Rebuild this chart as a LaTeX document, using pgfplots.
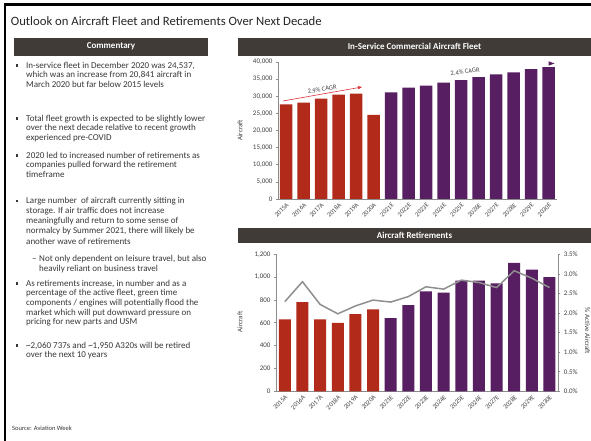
\documentclass[border=0pt]{standalone}
\usepackage{fontspec}
\setmainfont{Carlito}
\usepackage{pgfplots}
\pgfplotsset{compat=1.18}
\usetikzlibrary{arrows.meta}
\definecolor{barcol}{HTML}{403B37}
\definecolor{fleetred}{HTML}{B22B1A}
\definecolor{fleetpurple}{HTML}{581E62}
\definecolor{linegray}{HTML}{8F8F8F}
\definecolor{axisgray}{HTML}{8C8C8C}
\definecolor{ticktext}{HTML}{404040}
\definecolor{ctext}{HTML}{383838}
\definecolor{titletext}{HTML}{262626}
\definecolor{arrowred}{HTML}{E0323C}
\newcommand{\cfont}{\fontsize{9}{10}\selectfont}
\newcommand{\tfont}{\fontsize{7}{8}\selectfont}
\newcommand{\cln}[2]{\node[anchor=base west, inner sep=0, font=\cfont, text=ctext] at (26, 441-#1-2.2) {#2};}
\newcommand{\sln}[2]{\node[anchor=base west, inner sep=0, font=\cfont, text=ctext] at (39, 441-#1-2.2) {#2};}
\newcommand{\bul}[1]{\fill[ctext] (15.6, 441-#1-1.1) rectangle (17.8, 441-#1+1.1);}
\pgfplotsset{
  commonaxis/.style={
    scale only axis,
    axis line style={-, draw=axisgray, line width=0.8pt},
    tick align=outside, major tick length=2pt,
    xtick style={draw=none}, ytick style={draw=axisgray, line width=0.6pt},
    yticklabel style={font=\tfont, text=ticktext},
    xticklabel style={font=\fontsize{6.5}{7}\selectfont, text=ticktext, rotate=45, anchor=north east, inner sep=1pt},
    ylabel style={font=\tfont, text=ticktext},
    /pgf/number format/1000 sep={,},
    /pgf/number format/assume math mode=true,
  },
}
\begin{document}
\begin{tikzpicture}
\useasboundingbox (0pt,0pt) rectangle (591pt,441pt);
\begin{scope}[x=1pt,y=1pt]
\fill[white] (0,0) rectangle (591,441);
% frame
\draw[black, line width=2.2pt] (5,0) -- (5,436.5) -- (591,436.5);
% title
\node[anchor=base west, inner sep=0, font=\fontsize{12.7}{14}\selectfont, text=titletext] at (10.7, 441-26) {Outlook on Aircraft Fleet and Retirements Over Next Decade};
% header bars
\fill[barcol] (14,441-37.7) rectangle (208,441-55.7);
\node[font=\bfseries\fontsize{9}{10}\selectfont, text=white] at (111,441-46.7) {Commentary};
\fill[barcol] (238,441-37.7) rectangle (591,441-55.7);
\node[font=\bfseries\fontsize{9}{10}\selectfont, text=white] at (414.5,441-46.7) {In-Service Commercial Aircraft Fleet};
\fill[barcol] (238,441-227.7) rectangle (591,441-243.3);
\node[font=\bfseries\fontsize{9}{10}\selectfont, text=white] at (414.5,441-235.5) {Aircraft Retirements};
% commentary
\bul{65.5}
\cln{66}{In-service fleet in December 2020 was 24,537,}
\cln{75.8}{which was an increase from 20,841 aircraft in}
\cln{85.6}{March 2020 but far below 2015 levels}
\bul{118.5}
\cln{119}{Total fleet growth is expected to be slightly lower}
\cln{128.8}{over the next decade relative to recent growth}
\cln{138.6}{experienced pre-COVID}
\bul{155.5}
\cln{156}{2020 led to increased number of retirements as}
\cln{165.8}{companies pulled forward the retirement}
\cln{175.6}{timeframe}
\bul{201}
\cln{201.5}{Large number\ \ of aircraft currently sitting in}
\cln{211.5}{storage. If air traffic does not increase}
\cln{221.5}{meaningfully and return to some sense of}
\cln{231.8}{normalcy by Summer 2021, there will likely be}
\cln{242}{another wave of retirements}
\node[anchor=base west, inner sep=0, font=\cfont, text=ctext] at (32, 441-259.3-2.2) {--};
\sln{259.3}{Not only dependent on leisure travel, but also}
\sln{268.9}{heavily reliant on business travel}
\bul{283.5}
\cln{284}{As retirements increase, in number and as a}
\cln{293.7}{percentage of the active fleet, green time}
\cln{303.4}{components / engines will potentially flood the}
\cln{313.1}{market which will put downward pressure on}
\cln{322.8}{pricing for new parts and USM}
\bul{345.5}
\cln{346}{\textasciitilde2,060 737s and \textasciitilde1,950 A320s will be retired}
\cln{355.6}{over the next 10 years}
\node[anchor=base west, inner sep=0, font=\fontsize{6.5}{7}\selectfont, text=ctext] at (12, 441-430.5) {Source: Aviation Week};
\end{scope}
% ---------- top chart
\begin{axis}[commonaxis,
  at={(278pt,242pt)}, anchor=south west, width=278.7pt, height=137pt,
  xmin=-0.46, xmax=15.46, ymin=0, ymax=40000,
  axis x line*=bottom, axis y line*=left,
  ybar, bar width=12.4pt,
  scaled y ticks=false,
  ytick={0,5000,...,40000},
  xtick={0,...,15},
  xticklabels={2015A,2016A,2017A,2018A,2019A,2020A,2021E,2022E,2023E,2024E,2025E,2026E,2027E,2028E,2029E,2030E},
  ylabel={Aircraft},
  ylabel style={at={(axis description cs:-0.136,0.5)}, anchor=center},
]
\addplot[fill=fleetred, draw=none, bar shift=0pt] coordinates {(0,27600) (1,28150) (2,29300) (3,30450) (4,30800) (5,24537)};
\addplot[fill=fleetpurple, draw=none, bar shift=0pt] coordinates {(6,31100) (7,32500) (8,33100) (9,34000) (10,34700) (11,35600) (12,36400) (13,37000) (14,37900) (15,38500)};
\end{axis}
% ---------- bottom chart
\begin{axis}[commonaxis,
  at={(276pt,49.7pt)}, anchor=south west, width=282.3pt, height=137pt,
  xmin=-0.5, xmax=15.5, ymin=0, ymax=1200,
  axis x line*=bottom, axis y line*=left,
  ybar, bar width=12pt,
  scaled y ticks=false,
  ytick={0,200,...,1200},
  xtick={0,...,15},
  xticklabels={2015A,2016A,2017A,2018A,2019A,2020A,2021E,2022E,2023E,2024E,2025E,2026E,2027E,2028E,2029E,2030E},
  ylabel={Aircraft},
  ylabel style={at={(axis description cs:-0.1275,0.506)}, anchor=center},
]
\addplot[fill=fleetred, draw=none, bar shift=0pt] coordinates {(0,630) (1,780) (2,630) (3,600) (4,675) (5,718)};
\addplot[fill=fleetpurple, draw=none, bar shift=0pt] coordinates {(6,640) (7,755) (8,875) (9,865) (10,970) (11,970) (12,945) (13,1125) (14,1065) (15,1000)};
\end{axis}
\begin{axis}[commonaxis,
  at={(276pt,49.7pt)}, anchor=south west, width=282.3pt, height=137pt,
  xmin=-0.5, xmax=15.5, ymin=0, ymax=3.5,
  axis x line=none, axis y line*=right,
  xtick=\empty,
  ytick={0,0.5,...,3.5},
  yticklabel={\pgfmathprintnumber[fixed,fixed zerofill,precision=1]{\tick}\%},
  ylabel={\% Active Aircraft},
  ylabel style={at={(axis description cs:1.1035,0.44)}, anchor=center, rotate=180},
]
\addplot[linegray, line width=1.5pt, mark=none] coordinates {(0,2.29) (1,2.80) (2,2.22) (3,1.98) (4,2.18) (5,2.33) (6,2.28) (7,2.42) (8,2.67) (9,2.61) (10,2.84) (11,2.78) (12,2.65) (13,3.08) (14,2.89) (15,2.65)};
\end{axis}
% annotations
\begin{scope}[x=1pt,y=1pt]
\draw[arrowred, line width=0.6pt, -{Triangle[length=4pt,width=3pt]}] (283,441-101) -- (362,441-87);
\node[rotate=10, font=\fontsize{6.5}{7}\selectfont, text=ticktext] at (322,441-89.3) {2.9\% CAGR};
\node[rotate=8, font=\fontsize{6.5}{7}\selectfont, text=ticktext] at (465,441-71.8) {2.4\% CAGR};
\fill[fleetpurple] (548.5,441-61.3) -- (554.5,441-63.5) -- (548.5,441-65.7) -- cycle;
\end{scope}
\end{tikzpicture}
\end{document}
